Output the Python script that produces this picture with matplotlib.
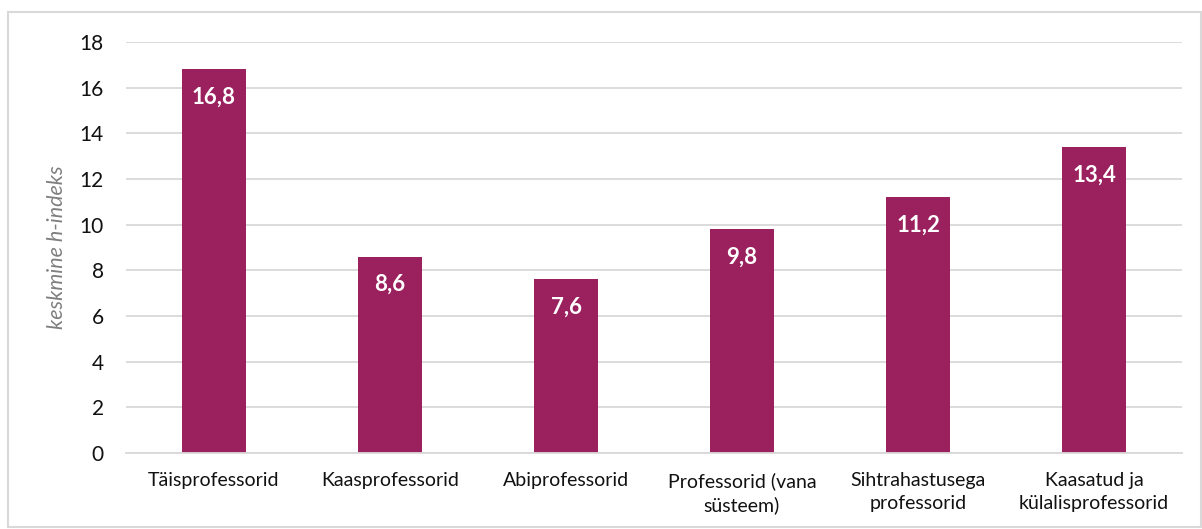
import matplotlib.pyplot as plt
from matplotlib.patches import Rectangle

plt.rcParams['font.family'] = ['Lato', 'DejaVu Sans']

kategooriad = ['Täisprofessorid', 'Kaasprofessorid', 'Abiprofessorid',
               'Professorid (vana\nsüsteem)', 'Sihtrahastusega\nprofessorid',
               'Kaasatud ja\nkülalisprofessorid']
h_indeks = [16.8, 8.6, 7.6, 9.8, 11.2, 13.4]
y_ticks = [0, 2, 4, 6, 8, 10, 12, 14, 16, 18]

bar_color = '#9B215E'
grid_color = '#D9D9D9'

fig = plt.figure(figsize=(12.02, 5.29), dpi=100)
ax = fig.add_axes([0.1048, 0.1437, 0.8786, 0.7769])

x = range(len(kategooriad))
bars = ax.bar(x, h_indeks, width=0.36, color=bar_color, zorder=3)

# väärtused tulpade sisse, ülaserva lähedale
for b, v in zip(bars, h_indeks):
    ax.annotate(f'{v:.1f}'.replace('.', ','),
                xy=(b.get_x() + b.get_width() / 2, v),
                xytext=(0, -20), textcoords='offset points',
                ha='center', va='center', color='white',
                fontsize=16, fontweight='bold', zorder=4)

ax.set_xlim(-0.5, len(kategooriad) - 0.5)
ax.set_ylim(0, 18)
ax.set_yticks(y_ticks)
ax.set_yticklabels([str(t) for t in y_ticks])
ax.set_xticks(list(x))
ax.set_xticklabels(kategooriad, linespacing=1.4)

ax.tick_params(axis='y', length=0, pad=16, labelsize=15, labelcolor='#111111')
ax.tick_params(axis='x', length=0, pad=14, labelsize=14, labelcolor='#111111')

ax.grid(axis='y', color=grid_color, linewidth=1.3, zorder=0)
for s in ['top', 'right', 'left']:
    ax.spines[s].set_visible(False)
ax.spines['bottom'].set_color(grid_color)
ax.spines['bottom'].set_linewidth(1.3)
ax.spines['bottom'].set_zorder(3)

ax.set_ylabel('keskmine h-indeks', fontsize=15.5, style='italic',
              color='#7F7F7F', labelpad=9)

# raam ümber kogu joonise
fig.patches.append(Rectangle((8 / 1202, 2 / 529), 1193 / 1202, 515 / 529,
                             transform=fig.transFigure, fill=False,
                             edgecolor='#D9D9D9', linewidth=1.5))

fig.savefig('out.png', dpi=100)
